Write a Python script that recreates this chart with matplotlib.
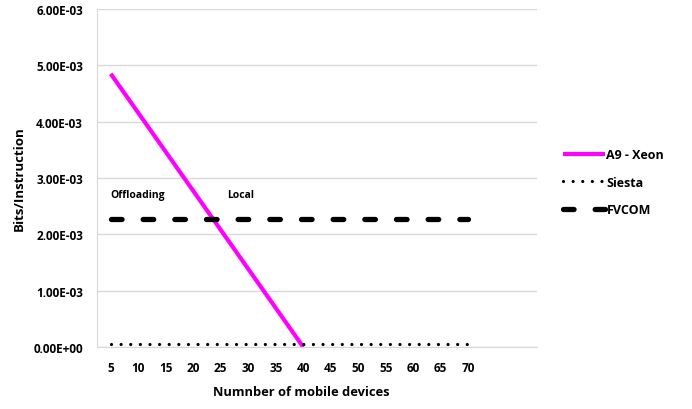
import matplotlib
matplotlib.use("Agg")
import matplotlib.pyplot as plt

plt.rcParams['font.family'] = ['Open Sans', 'DejaVu Sans']
plt.rcParams['font.weight'] = 'bold'

x_ticks = [5, 10, 15, 20, 25, 30, 35, 40, 45, 50, 55, 60, 65, 70]
a9_x = [5, 40]
a9_y = [4.85e-3, 0.0]
siesta_x = [5, 70]
siesta_y = [5.5e-5, 5.5e-5]
fvcom_x = [5, 70]
fvcom_y = [2.27e-3, 2.27e-3]
y_ticks = [0, 1e-3, 2e-3, 3e-3, 4e-3, 5e-3, 6e-3]
y_labels = ["0.00E+00", "1.00E-03", "2.00E-03", "3.00E-03", "4.00E-03", "5.00E-03", "6.00E-03"]

fig = plt.figure(figsize=(6.92, 4.10), dpi=100)
W, H = 692, 410
ax = fig.add_axes([97 / W, 1 - 348 / H, (537 - 97) / W, (348 - 10) / H])

ax.plot(a9_x, a9_y, color='#ff00ff', lw=3.0, solid_capstyle='butt', label='A9 - Xeon', zorder=3)
ax.plot(siesta_x, siesta_y, color='black', lw=2.3, linestyle=(0, (0.01, 3.0)), dash_capstyle='round', label='Siesta', zorder=3)
ax.plot(fvcom_x, fvcom_y, color='black', lw=3.8, linestyle=(0, (2.0, 4.0)), dash_capstyle='round', label='FVCOM', zorder=3)

ax.set_xlim(2.5, 82.5)
ax.set_ylim(0, 6e-3)
ax.set_xticks(x_ticks)
ax.set_xticklabels([str(v) for v in x_ticks], fontsize=8.5, fontweight='bold')
ax.set_yticks(y_ticks)
ax.set_yticklabels(y_labels, fontsize=8.5, fontweight='bold')
ax.tick_params(length=0, pad=10)
ax.tick_params(axis='x', pad=10)
ax.grid(axis='y', color='#d9d9d9', lw=1)
ax.set_axisbelow(True)
for s in ['top', 'right']:
    ax.spines[s].set_visible(False)
ax.spines['left'].set_color('#d9d9d9')
ax.spines['bottom'].set_color('#d9d9d9')

ax.text(4.9, 2.70e-3, 'Offloading', fontsize=7.5, fontweight='bold', ha='left', va='center')
ax.text(26.2, 2.70e-3, 'Local', fontsize=7.5, fontweight='bold', ha='left', va='center')

fig.text(19 / W, 1 - 179 / H, 'Bits/Instruction', rotation=90, fontsize=9.5, fontweight='bold', ha='center', va='center')
fig.text(301 / W, 1 - 393 / H, 'Numnber of mobile devices', fontsize=9.3, fontweight='bold', ha='center', va='center')

leg = fig.legend(loc='upper left', bbox_to_anchor=(552 / W, 1 - 138 / H), frameon=False,
                 prop={'size': 9, 'weight': 'bold'}, handlelength=3.3, handletextpad=0.15, labelspacing=1.15)

fig.savefig('out.png', dpi=100)
